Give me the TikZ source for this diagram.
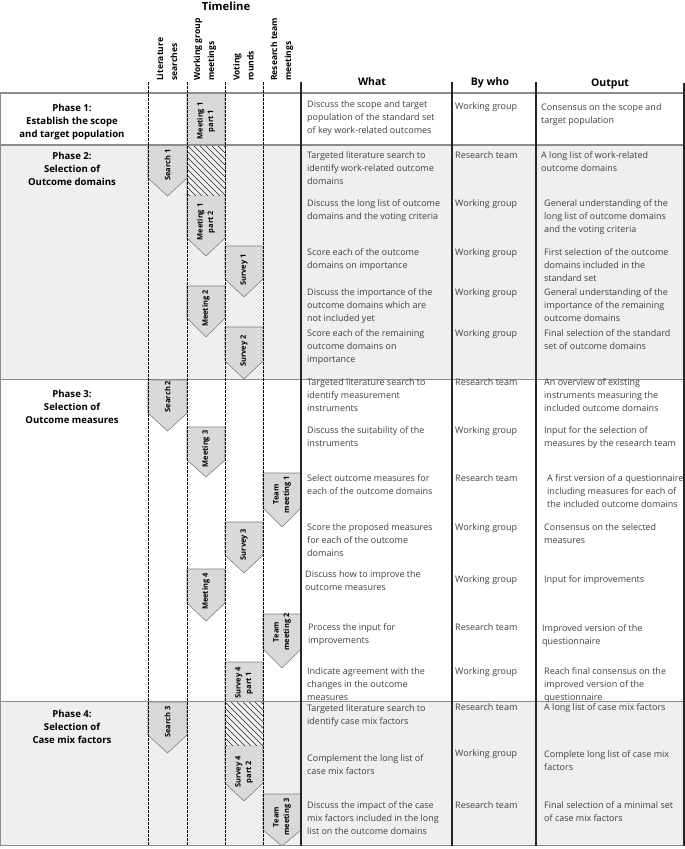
\documentclass[tikz,border=0pt]{standalone}
\usepackage{fontspec}
\setmainfont{Open Sans}
\definecolor{bgg}{HTML}{EFEFEF}
\definecolor{arrfill}{HTML}{D9D9D9}
\definecolor{arredge}{HTML}{808080}
\definecolor{rulegray}{HTML}{8C8C8C}
\definecolor{txt}{HTML}{404040}
\tikzset{
  body/.style={anchor=north west, yshift=6.5pt, align=left, inner sep=0pt, text=txt, font=\fontsize{9}{13}\selectfont},
  phaselbl/.style={anchor=north, yshift=7pt, align=center, inner sep=0pt, font=\bfseries\fontsize{9.6}{13}\selectfont},
  colhead/.style={anchor=base, inner sep=0pt, font=\bfseries\fontsize{10.5}{12}\selectfont},
  tlhead/.style={rotate=90, anchor=west, align=left, inner sep=0pt, font=\bfseries\fontsize{8.5}{14}\selectfont},
  arrlbl/.style={rotate=90, align=center, inner sep=0pt, font=\bfseries\fontsize{7.5}{10.5}\selectfont},
  arrbox/.style={fill=arrfill, draw=arredge, line width=0.6pt},
  hatchline/.style={draw=black!85, line width=0.5pt},
  dashline/.style={draw=black, line width=0.8pt, dash pattern=on 2.5pt off 1.5pt},
  solidline/.style={draw=black!85, line width=1.3pt},
  hrule/.style={draw=rulegray, line width=1.6pt}
}
\newcommand\pent[5]{\filldraw[arrbox] (#1,#3) -- (#2,#3) -- (#2,#4) -- ({(#1+#2)/2},#5) -- (#1,#4) -- cycle;}
\newcommand\hatcharea[4]{%
  \begin{scope}
    \clip (#1,#3) rectangle (#2,#4);
    \fill[bgg] (#1,#3) rectangle (#2,#4);
    \foreach \k in {-60,-54,...,60} {\draw[hatchline] (#1+\k,#3) -- ++(60,60);}
  \end{scope}}
\begin{document}
\begin{tikzpicture}[x=1pt,y=-1pt]
\useasboundingbox (0,0) rectangle (685,849);
% backgrounds
\fill[bgg] (0,145) rectangle (684,379.5);
\fill[bgg] (0,701.5) rectangle (684,845.5);
% arrows
\pent{187}{225}{93}{238}{256}
\hatcharea{187}{225}{145}{195}
\pent{148}{187}{145}{178}{196}
\pent{225}{263}{246}{279}{297}
\pent{187}{225}{286}{318}{337}
\pent{225}{263}{327}{361}{379}
\pent{148}{187}{380}{413}{431}
\pent{187}{225}{427}{460}{477}
\pent{263}{301}{473}{508}{527}
\pent{225}{263}{522}{555}{573}
\pent{187}{225}{569}{603}{621}
\pent{263}{301}{614}{649}{668}
\pent{225}{263}{662}{783}{801}
\hatcharea{225}{263}{702}{745}
\pent{148}{187}{702}{735}{753}
\pent{263}{301}{794}{830}{846}
% arrow labels
\node[arrlbl] (m1a) at (206,121) {Meeting 1\\part 1};
\node[arrlbl] (m1b) at (206,222) {Meeting 1\\part 2};
\node[arrlbl] (s1) at (167.5,165) {Search 1};
\node[arrlbl] (v1) at (244,270) {Survey 1};
\node[arrlbl] (m2) at (206,308.5) {Meeting 2};
\node[arrlbl] (v2) at (244,351) {Survey 2};
\node[arrlbl] (s2) at (167.5,396.5) {Search 2};
\node[arrlbl] (m3) at (206,449) {Meeting 3};
\node[arrlbl] (t1) at (282,494.5) {Team\\meeting 1};
\node[arrlbl] (v3) at (244,544.5) {Survey 3};
\node[arrlbl] (m4) at (206,591.5) {Meeting 4};
\node[arrlbl] (t2) at (282,632) {Team\\meeting 2};
\node[arrlbl] (v4a) at (244,683) {Survey 4\\part 1};
\node[arrlbl] (v4b) at (244,772) {Survey 4\\part 2};
\node[arrlbl] (s3) at (167.5,722) {Search 3};
\node[arrlbl] (t3) at (282,817) {Team\\meeting 3};
% horizontal rules
\foreach \yy in {93,145,379.5,701.5,845.5} {\draw[hrule] (0,\yy) -- (684.5,\yy);}
\draw[draw=rulegray, line width=0.8pt] (0.4,93) -- (0.4,846);
% vertical lines
\foreach \xx in {148,187,225,263} {\draw[dashline] (\xx,82) -- (\xx,846);}
\foreach \xx in {301,452,536} {\draw[solidline] (\xx,82) -- (\xx,846);}
\draw[solidline] (684,83) -- (684,846);
% headers
\node[font=\bfseries\fontsize{11.2}{12}\selectfont, inner sep=0pt] (tl) at (226,6) {Timeline};
\node[tlhead] (h1) at (167,81) {Literature\\searches};
\node[tlhead] (h2) at (205,81) {Working group\\meetings};
\node[tlhead] (h3) at (243.5,81) {Voting\\rounds};
\node[tlhead] (h4) at (282,81) {Research team\\meetings};
\node[colhead] (hw) at (372,85) {What};
\node[colhead] (hb) at (490,85) {By who};
\node[colhead] (ho) at (610,86) {Output};
% phase labels
\node[phaselbl] (p1) at (72,111.5) {Phase 1:\\Establish the scope\\and target population};
\node[phaselbl] (p2) at (72,159) {Phase 2:\\Selection of\\Outcome domains};
\node[phaselbl] (p3) at (72,396.5) {Phase 3:\\Selection of\\Outcome measures};
\node[phaselbl] (p4) at (72,716.5) {Phase 4:\\Selection of\\Case mix factors};
% phase 1
\node[body] (w1) at (307,107) {Discuss the scope and target\\population of the standard set\\of key work-related outcomes};
\node[body] (b1) at (455,109) {Working group};
\node[body] (o1) at (541,110) {Consensus on the scope and\\target population};
% phase 2
\node[body] (w21) at (307,158) {Targeted literature search to\\identify work-related outcome\\domains};
\node[body] (b21) at (455,158) {Research team};
\node[body] (o21) at (541,158) {A long list of work-related\\outcome domains};
\node[body] (w22) at (307,206) {Discuss the long list of outcome\\domains and the voting criteria};
\node[body] (b22) at (455,206) {Working group};
\node[body] (o22) at (544,206) {General understanding of the\\long list of outcome domains\\and the voting criteria};
\node[body] (w23) at (307,255) {Score each of the outcome\\domains on importance};
\node[body] (b23) at (455,255) {Working group};
\node[body] (o23) at (544,255) {First selection of the outcome\\domains included in the\\standard set};
\node[body] (w24) at (307,295) {Discuss the importance of the\\outcome domains which are\\not included yet};
\node[body] (b24) at (455,295) {Working group};
\node[body] (o24) at (544,295) {General understanding of the\\importance of the remaining\\outcome domains};
\node[body] (w25) at (307,336) {Score each of the remaining\\outcome domains on\\importance};
\node[body] (b25) at (455,336) {Working group};
\node[body] (o25) at (544,336) {Final selection of the standard\\set of outcome domains};
% phase 3
\node[body] (w31) at (307,385) {Targeted literature search to\\identify measurement\\instruments};
\node[body] (b31) at (455,385) {Research team};
\node[body] (o31) at (544,385) {An overview of existing\\instruments measuring the\\included outcome domains};
\node[body] (w32) at (307,433) {Discuss the suitability of the\\instruments};
\node[body] (b32) at (455,433) {Working group};
\node[body] (o32) at (544,433) {Input for the selection of\\measures by the research team};
\node[body] (w33) at (307,481) {Select outcome measures for\\each of the outcome domains};
\node[body] (b33) at (455,481) {Research team};
\node[body] (o33) at (547,481) {A first version of a questionnaire\\including measures for each of\\the included outcome domains};
\node[body] (w34) at (307,530) {Score the proposed measures\\for each of the outcome\\domains};
\node[body] (b34) at (455,530) {Working group};
\node[body] (o34) at (544,530) {Consensus on the selected\\measures};
\node[body] (w35) at (305,577) {Discuss how to improve the\\outcome measures};
\node[body] (b35) at (455,582) {Working group};
\node[body] (o35) at (544,582) {Input for improvements};
\node[body] (w36) at (308,630) {Process the input for\\improvements};
\node[body] (b36) at (455,630) {Research team};
\node[body] (o36) at (542,631) {Improved version of the\\questionnaire};
\node[body] (w37) at (307,674) {Indicate agreement with the\\changes in the outcome\\measures};
\node[body] (b37) at (455,674) {Working group};
\node[body] (o37) at (544,674) {Reach final consensus on the\\improved version of the\\questionnaire};
% phase 4
\node[body] (w41) at (307,711) {Targeted literature search to\\identify case mix factors};
\node[body] (b41) at (455,710) {Research team};
\node[body] (o41) at (544,710) {A long list of case mix factors};
\node[body] (w42) at (307,761) {Complement the long list of\\case mix factors};
\node[body] (b42) at (455,756) {Working group};
\node[body] (o42) at (544,757) {Complete long list of case mix\\factors};
\node[body] (w43) at (307,808) {Discuss the impact of the case\\mix factors included in the long\\list on the outcome domains};
\node[body] (b43) at (455,808) {Research team};
\node[body] (o43) at (544,808) {Final selection of a minimal set\\of case mix factors};
\end{tikzpicture}
\end{document}
